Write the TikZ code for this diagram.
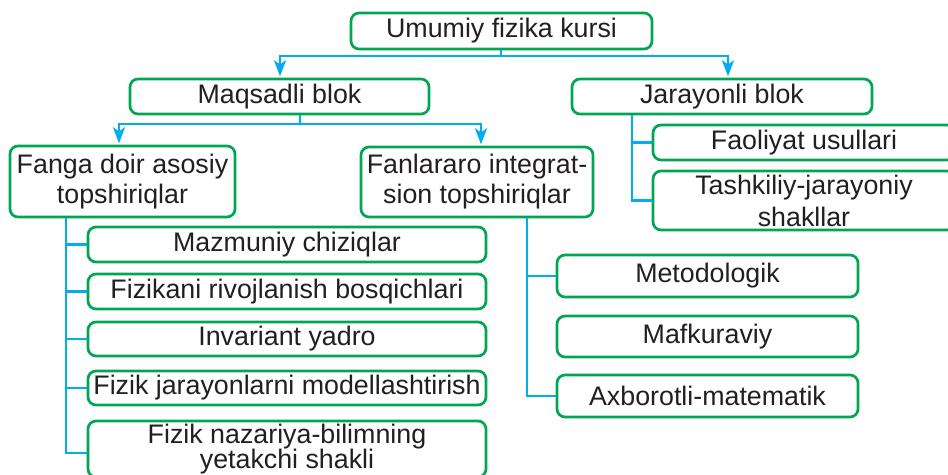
\documentclass[tikz,border=0pt]{standalone}
\usepackage{fontspec}
\setmainfont{Liberation Sans}
\usetikzlibrary{arrows.meta,calc}
\definecolor{bgreen}{RGB}{0,166,81}
\definecolor{bblue}{RGB}{0,174,239}
\definecolor{txt}{RGB}{35,31,32}
\tikzset{
  box/.style={draw=bgreen, line width=2pt, rounded corners=6pt, inner sep=0pt,
    align=center, text=txt, font=\fontsize{20.1}{22.5}\selectfont},
  conn/.style={draw=bblue, line width=1.7pt},
  arr/.style={conn, -{Stealth[length=12pt,width=9pt,inset=3pt]}, shorten >=1pt},
}
\newcommand\mybox[7][]{\node[box,#1,minimum width={(#5-#3)*0.75pt},minimum height={(#6-#4)*0.75pt}] (#2) at ({(#3+#5)/2},{(#4+#6)/2}) {#7};}
\begin{document}
\begin{tikzpicture}[x=0.75pt,y=-0.75pt]
\fill[white] (0,0) rectangle (948,474);
\useasboundingbox (0,0) rectangle (948,474);
% boxes
\mybox{top}{351}{13}{652}{49}{Umumiy fizika kursi}
\mybox{maq}{130}{79}{429}{114}{Maqsadli blok}
\mybox{jar}{572}{79}{872}{114}{Jarayonli blok}
\mybox{fan}{10}{146}{235}{217}{Fanga doir asosiy\\topshiriqlar}
\mybox{fin}{361}{147}{593}{217}{Fanlararo integrat-\\sion topshiriqlar}
\mybox{r1}{653}{125}{955}{160}{Faoliyat usullari}
\mybox[font=\fontsize{20.1}{24}\selectfont]{r2}{653}{171}{955}{230}{Tashkiliy-jarayoniy\\shakllar}
\mybox{c1}{88}{227}{486}{262}{Mazmuniy chiziqlar}
\mybox{c2}{88}{274}{486}{309}{Fizikani rivojlanish bosqichlari}
\mybox{c3}{88}{322}{486}{356}{Invariant yadro}
\mybox{c4}{88}{371}{486}{405}{Fizik jarayonlarni modellashtirish}
\mybox[font=\fontsize{20.1}{18.75}\selectfont]{c5}{88}{421}{486}{477}{Fizik nazariya-bilimning\\yetakchi shakli}
\mybox{m1}{557}{255}{858}{297}{Metodologik}
\mybox{m2}{557}{316}{858}{357}{Mafkuraviy}
\mybox{m3}{557}{375}{858}{417}{Axborotli-matematik}
% level 1 connectors
\coordinate (j1) at (501,56);
\coordinate (a1) at (280,56);
\coordinate (a2) at (728,56);
\draw[conn] (top.south -| j1) -- (j1);
\draw[arr] (j1) -| (maq.north -| a1);
\draw[arr] (j1) -| (jar.north -| a2);
% level 2 connectors
\coordinate (j2) at (300,124);
\coordinate (b1) at (119,124);
\coordinate (b2) at (481,124);
\draw[conn] (maq.south -| j2) -- (j2);
\draw[arr] (j2) -| (fan.north -| b1);
\draw[arr] (j2) -| (fin.north -| b2);
% left tree
\coordinate (v1) at (66,0);
\draw[conn] (fan.south -| v1) |- ($(c5.west)+(0,4)$);
\draw[conn] (v1 |- c1.west) -- (c1.west);
\draw[conn] (v1 |- c2.west) -- (c2.west);
\draw[conn] (v1 |- c3.west) -- (c3.west);
\draw[conn] (v1 |- c4.west) -- (c4.west);
% middle tree
\coordinate (v2) at (527,0);
\draw[conn] (fin.south -| v2) |- (m3.west);
\draw[conn] (v2 |- m1.west) -- (m1.west);
% right tree
\coordinate (v3) at (632,0);
\draw[conn] (jar.south -| v3) |- (r2.west);
\draw[conn] (v3 |- r1.west) -- (r1.west);
\end{tikzpicture}
\end{document}
